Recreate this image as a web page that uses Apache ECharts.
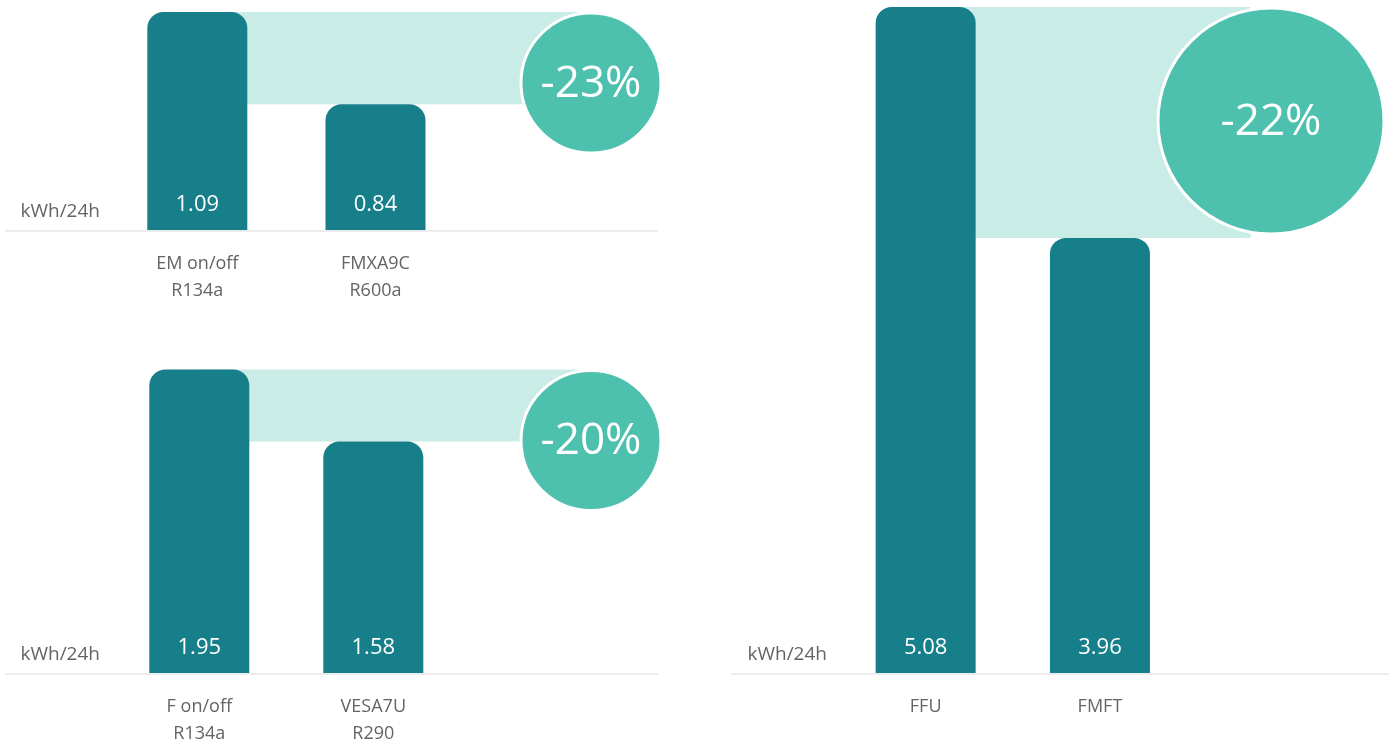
<!DOCTYPE html>
<html>
<head>
<meta charset="utf-8">
<script src="https://cdn.jsdelivr.net/npm/echarts@6/dist/echarts.min.js"></script>
<style>
  html, body { margin: 0; padding: 0; background: #fff; }
  #main { width: 1389px; height: 746px; }
</style>
</head>
<body>
<div id="main"></div>
<script>
// data
const catsTopLeft = ['EM on/off\nR134a', 'FMXA9C\nR600a'];
const valsTopLeft = [1.09, 0.84];
const catsBottomLeft = ['F on/off\nR134a', 'VESA7U\nR290'];
const valsBottomLeft = [1.95, 1.58];
const catsRight = ['FFU', 'FMFT'];
const valsRight = [5.08, 3.96];
const savingLabels = ['-23%', '-20%', '-22%'];
const axisFloor = [0.5, 0.39, 1.85];
const unitLabel = 'kWh/24h';

const barColor = '#167f8a';
const bandColor = '#c9ece6';
const circleColor = '#4dc0ae';
const textGray = '#646464';
const font = '"Open Sans", "Noto Sans", sans-serif';

const panels = [
  { cats: catsTopLeft, vals: valsTopLeft, left: 108.2, top: 12, width: 356.4, height: 218, line: [5, 658], unitX: 100, circleX: 591, r: 70 },
  { cats: catsBottomLeft, vals: valsBottomLeft, left: 112.3, top: 369.5, width: 348, height: 303.5, line: [5, 658], unitX: 100, circleX: 591, r: 70 },
  { cats: catsRight, vals: valsRight, left: 838.5, top: 7, width: 348.6, height: 666, line: [731, 1389], unitX: 827, circleX: 1271, r: 113 },
];

const myChart = echarts.init(document.getElementById('main'), null, { renderer: 'canvas' });

const grids = [], xAxes = [], yAxes = [], series = [];
panels.forEach((p, i) => {
  grids.push({ left: p.left, top: p.top, width: p.width, height: p.height, outerBoundsMode: 'none' });
  xAxes.push({
    type: 'category',
    gridIndex: i,
    data: p.cats,
    axisLine: { show: false },
    axisTick: { show: false },
    axisLabel: { color: textGray, fontFamily: font, fontSize: 18, lineHeight: 27, margin: 20 },
  });
  yAxes.push({
    type: 'value',
    gridIndex: i,
    min: axisFloor[i],
    max: p.vals[0],
    axisLine: { show: false },
    axisTick: { show: false },
    axisLabel: { show: false },
    splitLine: { show: false },
  });
  series.push({
    type: 'bar',
    xAxisIndex: i,
    yAxisIndex: i,
    data: p.vals,
    barWidth: 100,
    z: 5,
    itemStyle: { color: barColor, borderRadius: [16, 16, 0, 0] },
    label: {
      show: true,
      position: 'insideBottom',
      distance: 14,
      color: '#fff',
      fontFamily: font,
      fontSize: 22,
    },
  });
});

myChart.setOption({
  animation: false,
  grid: grids,
  xAxis: xAxes,
  yAxis: yAxes,
  series: series,
});

// decorations placed through the axes
const graphics = [];
panels.forEach((p, i) => {
  const finder = { xAxisIndex: i, yAxisIndex: i };
  const top1 = myChart.convertToPixel(finder, [0, p.vals[0]]);
  const top2 = myChart.convertToPixel(finder, [1, p.vals[1]]);
  const base = myChart.convertToPixel(finder, [0, axisFloor[i]])[1];
  const bandEnd = p.circleX - p.r * 0.18;

  graphics.push({
    type: 'line',
    z: 1,
    shape: { x1: p.line[0], y1: base + 1, x2: p.line[1], y2: base + 1 },
    style: { stroke: '#ececec', lineWidth: 2 },
  });
  graphics.push({
    type: 'rect',
    z: 1,
    shape: { x: top1[0], y: top1[1], width: bandEnd - top1[0], height: top2[1] - top1[1] },
    style: { fill: bandColor },
  });
  graphics.push({
    type: 'circle',
    z: 2,
    shape: { cx: p.circleX, cy: top1[1] + p.r + 1, r: p.r },
    style: { fill: circleColor, stroke: '#fff', lineWidth: 3 },
  });
  graphics.push({
    type: 'text',
    z: 3,
    x: p.circleX,
    y: top1[1] + p.r + 2,
    style: {
      text: savingLabels[i],
      fill: '#fff',
      fontFamily: font,
      fontSize: 44,
      align: 'center',
      verticalAlign: 'middle',
    },
  });
  graphics.push({
    type: 'text',
    z: 3,
    x: p.unitX,
    y: base - 18,
    style: {
      text: unitLabel,
      fill: textGray,
      fontFamily: font,
      fontSize: 19,
      align: 'right',
      verticalAlign: 'middle',
    },
  });
});

myChart.setOption({ graphic: graphics });
</script>
</body>
</html>
